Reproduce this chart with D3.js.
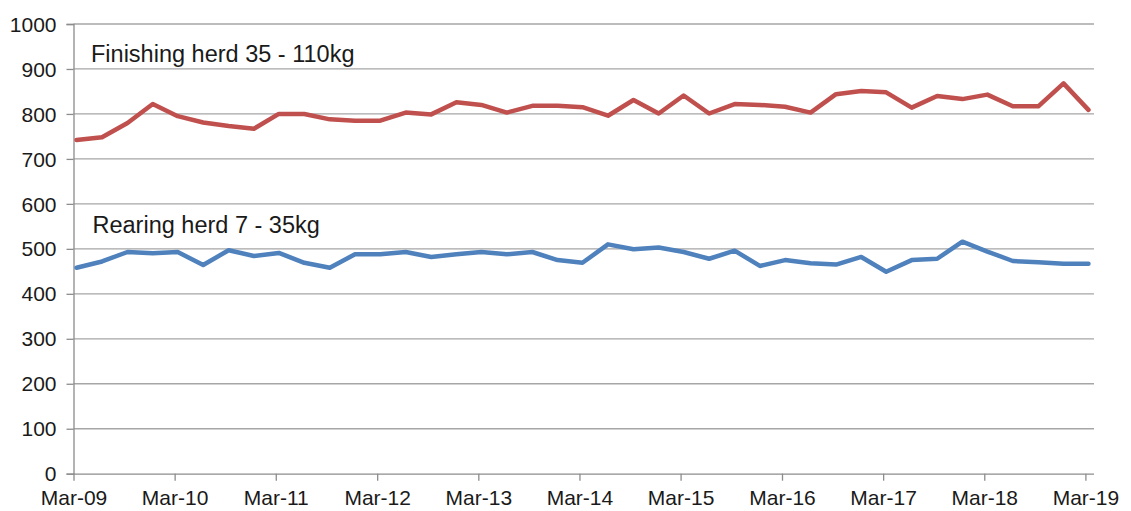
<!DOCTYPE html>
<html>
<head>
<meta charset="utf-8">
<script src="https://cdn.jsdelivr.net/npm/d3@7"></script>
<style>
  html, body { margin: 0; padding: 0; background: #fff; }
  svg { display: block; }
  text { font-family: "Liberation Sans", Arial, sans-serif; fill: #1a1a1a; }
</style>
</head>
<body>
<svg id="chart" width="1131" height="511"></svg>
<script>
// Quarterly observation months
const quarters = [
  "2009-03","2009-06","2009-09","2009-12",
  "2010-03","2010-06","2010-09","2010-12",
  "2011-03","2011-06","2011-09","2011-12",
  "2012-03","2012-06","2012-09","2012-12",
  "2013-03","2013-06","2013-09","2013-12",
  "2014-03","2014-06","2014-09","2014-12",
  "2015-03","2015-06","2015-09","2015-12",
  "2016-03","2016-06","2016-09","2016-12",
  "2017-03","2017-06","2017-09","2017-12",
  "2018-03","2018-06","2018-09","2018-12",
  "2019-03"
];
// Finishing herd 35 - 110kg
const finishing = [
  742, 748, 780, 822, 795, 781, 773, 767, 800, 800,
  788, 785, 785, 803, 799, 826, 820, 803, 818, 818,
  815, 796, 831, 801, 841, 801, 822, 820, 816, 803,
  844, 851, 848, 814, 840, 833, 843, 817, 817, 868,
  809
];
// Rearing herd 7 - 35kg
const rearing = [
  458, 472, 493, 490, 493, 464, 497, 484, 491, 469,
  458, 488, 488, 493, 482, 488, 493, 488, 493, 475,
  469, 510, 499, 503, 493, 478, 496, 462, 475, 468,
  465, 482, 449, 475, 478, 516, 494, 473, 470, 467,
  467
];
const yTicks = [0, 100, 200, 300, 400, 500, 600, 700, 800, 900, 1000];
const xTickLabels = ["Mar-09","Mar-10","Mar-11","Mar-12","Mar-13","Mar-14","Mar-15","Mar-16","Mar-17","Mar-18","Mar-19"];
const seriesLabels = ["Finishing herd 35 - 110kg", "Rearing herd 7 - 35kg"];

(function () {
const parseQ = s => { const [yr, m] = s.split("-").map(Number); return new Date(yr, m - 1, 12); };
const dates = quarters.map(parseQ);
const tickDates = xTickLabels.map((_, i) => new Date(2009 + i, 2, 1));

const svg = d3.select("#chart");
const pLeft = 73.5, pRight = 1094, pTop = 24, pBottom = 473.7;

const x = d3.scaleTime()
  .domain([new Date(2009, 2, 1), new Date(2019, 3, 1)])
  .range([pLeft, pRight]);
const y = d3.scaleLinear().domain([0, 1000]).range([pBottom, pTop]);

// Gridlines
svg.append("g")
  .selectAll("line")
  .data(yTicks.filter(t => t > 0))
  .join("line")
  .attr("x1", pLeft).attr("x2", pRight)
  .attr("y1", d => y(d)).attr("y2", d => y(d))
  .attr("stroke", "#a6a6a6").attr("stroke-width", 1.3);

// Y axis
const yAxis = svg.append("g")
  .attr("transform", `translate(${pLeft},0)`)
  .call(d3.axisLeft(y).tickValues(yTicks).tickSize(7).tickPadding(10).tickFormat(d3.format("d")));
yAxis.select(".domain").attr("stroke", "#8c8c8c").attr("stroke-width", 1.3);
yAxis.selectAll(".tick line").attr("stroke", "#8c8c8c").attr("stroke-width", 1.3);
yAxis.selectAll(".tick text")
  .attr("font-size", 21).attr("fill", "#1a1a1a")
  .attr("font-family", "Liberation Sans, Arial, sans-serif")
  .attr("dy", "0.34em");

// X axis
const xAxis = svg.append("g")
  .attr("transform", `translate(0,${pBottom})`)
  .call(d3.axisBottom(x).tickValues(tickDates).tickSize(7).tickPadding(9)
    .tickFormat((d, i) => xTickLabels[i]));
xAxis.select(".domain").attr("stroke", "#8c8c8c").attr("stroke-width", 1.3)
  .attr("d", `M${pLeft},0.5H${pRight}`);
xAxis.selectAll(".tick line").attr("stroke", "#8c8c8c").attr("stroke-width", 1.3);
xAxis.selectAll(".tick text")
  .attr("font-size", 21).attr("fill", "#1a1a1a")
  .attr("font-family", "Liberation Sans, Arial, sans-serif");

// Lines
const line = d3.line()
  .x((d, i) => x(dates[i]))
  .y(d => y(d));

svg.append("path")
  .datum(finishing)
  .attr("d", line)
  .attr("fill", "none")
  .attr("stroke", "#C0504D")
  .attr("stroke-width", 4.5)
  .attr("stroke-linejoin", "round")
  .attr("stroke-linecap", "round");

svg.append("path")
  .datum(rearing)
  .attr("d", line)
  .attr("fill", "none")
  .attr("stroke", "#4F81BD")
  .attr("stroke-width", 4.5)
  .attr("stroke-linejoin", "round")
  .attr("stroke-linecap", "round");

// Series annotations
svg.append("text")
  .attr("x", 91).attr("y", 62)
  .attr("font-size", 23.5)
  .text(seriesLabels[0]);

svg.append("text")
  .attr("x", 92.5).attr("y", 233)
  .attr("font-size", 23.5)
  .text(seriesLabels[1]);
})();
</script>
</body>
</html>
